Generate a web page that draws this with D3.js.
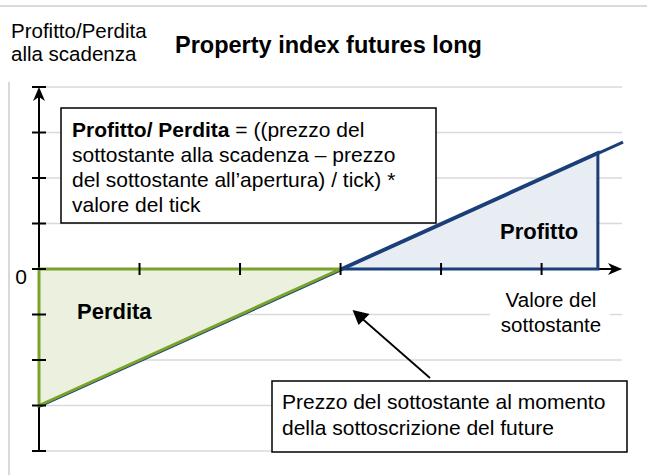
<!DOCTYPE html>
<html>
<head>
<meta charset="utf-8">
<script src="https://cdn.jsdelivr.net/npm/d3@7"></script>
<style>
  body { margin: 0; background: #fff; }
  svg text { font-family: "Liberation Sans", Arial, sans-serif; fill: #000; }
</style>
</head>
<body>
<div id="chart"></div>
<script>
// Payoff of a long property index future, strike at x = 3
const yTicks = [-4, -3, -2, -1, 0, 1, 2, 3, 4];
const xTicks = [1, 2, 3, 4, 5];
const payoffLine = [[0, -3], [5.81, 2.81]];
const lossArea = [[0, 0], [3, 0], [0, -3]];
const profitArea = [[3, 0], [5.56, 2.56], [5.56, 0]];
const strikePoint = [3, 0];

const formulaLines = [
  [["Profitto/ Perdita", true], [" = ((prezzo del", false]],
  [["sottostante alla scadenza \u2013 prezzo", false]],
  [["del sottostante all\u2019apertura) / tick) *", false]],
  [["valore del tick", false]]
];
const noteLines = ["Prezzo del sottostante al momento", "della sottoscrizione del future"];
const xLabelLines = ["Valore del", "sottostante"];
const yLabelLines = ["Profitto/Perdita", "alla scadenza"];

const width = 647, height = 475;

const svg = d3.select("#chart").append("svg")
  .attr("width", width)
  .attr("height", height);

const x = d3.scaleLinear().domain([0, 5.8]).range([39, 622]);
const y = d3.scaleLinear().domain([-4, 4]).range([451, 87]);

// frame lines
svg.append("line")
  .attr("x1", 0).attr("x2", 647).attr("y1", 6).attr("y2", 6)
  .attr("stroke", "#d9d9d9").attr("stroke-width", 2);
svg.append("line")
  .attr("x1", 9).attr("x2", 9).attr("y1", 82).attr("y2", 475)
  .attr("stroke", "#d9d9d9").attr("stroke-width", 2);

// header texts
svg.append("g").selectAll("text")
  .data(yLabelLines)
  .join("text")
  .attr("x", 11).attr("y", (d, i) => 38 + i * 23)
  .style("font-size", "20.5px")
  .text(d => d);
svg.append("text").attr("x", 175).attr("y", 53)
  .style("font-size", "23.5px").style("font-weight", "bold")
  .text("Property index futures long");

// gridlines
svg.append("g").selectAll("line")
  .data(yTicks)
  .join("line")
  .attr("x1", x(0)).attr("x2", x(5.8))
  .attr("y1", d => y(d)).attr("y2", d => y(d))
  .attr("stroke", "#d9d9d9").attr("stroke-width", 1.5);

// white background behind x label
svg.append("rect")
  .attr("x", 490).attr("y", 288).attr("width", 120).attr("height", 50)
  .attr("fill", "#fff");

const line = d3.line().x(d => x(d[0])).y(d => y(d[1]));

// areas
svg.append("path").attr("d", line(lossArea) + "Z").attr("fill", "#ebf1de");
svg.append("path").attr("d", line(profitArea) + "Z").attr("fill", "#e8ecf3");

// axes
svg.append("line")
  .attr("x1", x(0)).attr("x2", x(5.8) - 8)
  .attr("y1", y(0)).attr("y2", y(0))
  .attr("stroke", "#000").attr("stroke-width", 2);
svg.append("line")
  .attr("x1", x(0)).attr("x2", x(0))
  .attr("y1", y(-4)).attr("y2", y(4) + 8)
  .attr("stroke", "#000").attr("stroke-width", 2);

// payoff line (a sliver shows below the green edge)
svg.append("path").attr("d", line(payoffLine))
  .attr("transform", "translate(0,1)")
  .attr("fill", "none").attr("stroke", "#1b3f78").attr("stroke-width", 3);

// triangles outlines
svg.append("path").attr("d", line(lossArea) + "Z")
  .attr("fill", "none").attr("stroke", "#7aa32c").attr("stroke-width", 3)
  .attr("stroke-linejoin", "miter");
svg.append("path").attr("d", line(profitArea) + "Z")
  .attr("fill", "none").attr("stroke", "#1b3f78").attr("stroke-width", 3)
  .attr("stroke-linejoin", "miter");

// ticks
svg.append("g").selectAll("line")
  .data(yTicks)
  .join("line")
  .attr("x1", x(0) - 7).attr("x2", x(0) + 7)
  .attr("y1", d => y(d)).attr("y2", d => y(d))
  .attr("stroke", "#000").attr("stroke-width", 2);
svg.append("g").selectAll("line")
  .data(xTicks)
  .join("line")
  .attr("x1", d => x(d)).attr("x2", d => x(d))
  .attr("y1", y(0) - 6).attr("y2", y(0) + 6)
  .attr("stroke", "#000").attr("stroke-width", 2);

// arrow heads
const ax = x(5.8), ay = y(0);
svg.append("path")
  .attr("d", `M${ax},${ay} L${ax - 14},${ay - 6} L${ax - 10},${ay} L${ax - 14},${ay + 6} Z`)
  .attr("fill", "#000");
const tx = x(0), ty = y(4);
svg.append("path")
  .attr("d", `M${tx},${ty} L${tx - 6},${ty + 14} L${tx},${ty + 10} L${tx + 6},${ty + 14} Z`)
  .attr("fill", "#000");

// zero label
svg.append("text").attr("x", 27).attr("y", 284)
  .attr("text-anchor", "end").style("font-size", "21px").text("0");

// area labels
svg.append("text").attr("x", 77).attr("y", 319)
  .style("font-size", "22px").style("font-weight", "bold").text("Perdita");
svg.append("text").attr("x", 500).attr("y", 239)
  .style("font-size", "22px").style("font-weight", "bold").text("Profitto");

// x label
svg.append("g").selectAll("text")
  .data(xLabelLines)
  .join("text")
  .attr("x", 551).attr("y", (d, i) => 307 + i * 25)
  .attr("text-anchor", "middle")
  .style("font-size", "20.5px")
  .text(d => d);

// formula box
svg.append("rect")
  .attr("x", 61).attr("y", 108).attr("width", 375).attr("height", 115)
  .attr("fill", "#fff").attr("stroke", "#000").attr("stroke-width", 1.5);
const ft = svg.append("g").selectAll("text")
  .data(formulaLines)
  .join("text")
  .attr("x", 72).attr("y", (d, i) => 137 + i * 25)
  .style("font-size", "21px");
ft.selectAll("tspan")
  .data(d => d)
  .join("tspan")
  .style("font-weight", d => d[1] ? "bold" : "normal")
  .text(d => d[0]);

// note arrow
svg.append("line")
  .attr("x1", 430).attr("y1", 378).attr("x2", x(strikePoint[0]) + 22).attr("y2", y(strikePoint[1]) + 50)
  .attr("stroke", "#000").attr("stroke-width", 1.8);
const nx = x(strikePoint[0]) + 12, ny = y(strikePoint[1]) + 41;
svg.append("path")
  .attr("d", `M${nx},${ny} L${nx + 17},${ny + 4} L${nx + 6},${ny + 15} Z`)
  .attr("fill", "#000");

// note box
svg.append("rect")
  .attr("x", 272).attr("y", 381).attr("width", 355).attr("height", 71)
  .attr("fill", "#fff").attr("stroke", "#000").attr("stroke-width", 1.5);
svg.append("g").selectAll("text")
  .data(noteLines)
  .join("text")
  .attr("x", 282).attr("y", (d, i) => 409 + i * 26)
  .style("font-size", "21px")
  .text(d => d);
</script>
</body>
</html>
